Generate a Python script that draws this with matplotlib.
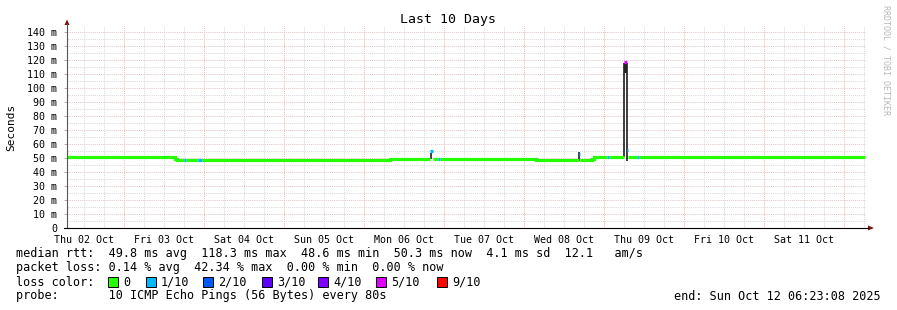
import matplotlib
matplotlib.use("Agg")
import matplotlib.pyplot as plt
from matplotlib.patches import Polygon, Rectangle
from matplotlib.lines import Line2D
import numpy as np

# ---------------- data ----------------
title = "Last 10 Days"
ylabel = "Seconds"
y_ticks = list(range(0, 141, 10))
y_tick_labels = ["0"] + [f"{v} m" for v in range(10, 141, 10)]
day_labels = ["Thu 02 Oct", "Fri 03 Oct", "Sat 04 Oct", "Sun 05 Oct", "Mon 06 Oct",
              "Tue 07 Oct", "Wed 08 Oct", "Thu 09 Oct", "Fri 10 Oct", "Sat 11 Oct"]

# median rtt, step segments: time in days since Thu 02 Oct 00:00, rtt in ms, lost pings of 10
seg_start = [0.266, 1.6375, 1.6625, 1.750, 1.775, 1.925, 1.975, 4.325, 4.830, 4.8625, 4.925, 4.950,
             6.150, 6.690, 6.700, 6.850, 6.875, 7.0375, 7.0625, 7.250, 7.2875, 7.300, 7.4125, 7.4375]
seg_end   = [1.6375, 1.6625, 1.750, 1.775, 1.925, 1.975, 4.325, 4.830, 4.8625, 4.925, 4.950, 6.150,
             6.690, 6.700, 6.850, 6.875, 7.0375, 7.0625, 7.250, 7.2875, 7.300, 7.4125, 7.4375, 10.266]
seg_rtt   = [50.6, 49.6, 48.6, 48.6, 48.6, 48.6, 48.6, 49.4, 55.0, 49.4, 49.4, 49.4,
             48.6, 53.0, 48.6, 49.6, 50.6, 50.6, 50.6, 118.6, 56.0, 50.6, 50.6, 50.6]
seg_loss  = [0, 0, 0, 1, 0, 1, 0, 0, 1, 0, 1, 0,
             0, 1, 0, 0, 0, 1, 0, 5, 1, 0, 1, 0]

# smoke (spread of the pings) where it is visible
smoke_t  = [4.8375, 6.6875, 7.256, 7.263, 7.270, 7.284]
smoke_lo = [49.3, 47.9, 50.6, 110.7, 110.7, 48.0]
smoke_hi = [53.6, 54.3, 118.0, 118.0, 118.0, 118.0]

loss_keys = [0, 1, 2, 3, 4, 5, 9]
loss_labels = ["0", "1/10", "2/10", "3/10", "4/10", "5/10", "9/10"]
loss_colors = ["#26ff00", "#00b8ff", "#0059ff", "#5e00ff", "#7e00ff", "#dd00ff", "#ff0000"]

line_rtt = "median rtt:  49.8 ms avg  118.3 ms max  48.6 ms min  50.3 ms now  4.1 ms sd  12.1   am/s"
line_loss = "packet loss: 0.14 % avg  42.34 % max  0.00 % min  0.00 % now"
line_color = "loss color:"
line_probe = "probe:       10 ICMP Echo Pings (56 Bytes) every 80s"
line_end = "end: Sun Oct 12 06:23:08 2025"
watermark = "RRDTOOL / TOBI OETIKER"

# ---------------- layout ----------------
W, H = 897, 310
MONO = "DejaVu Sans Mono"
fig = plt.figure(figsize=(W / 100, H / 100), dpi=100)
fig.patch.set_facecolor("white")

def fx(x):
    return x / W

def fy(y):
    return 1 - y / H

ax = fig.add_axes([fx(67), fy(228), 799 / W, 202 / H])
ax.set_xlim(0.2875, 10.275)
ax.set_ylim(0, 144.3)
for s in ax.spines.values():
    s.set_visible(False)

dots = (0, (1.08, 1.08))
# vertical grid
for k in range(1, 42):
    d = k * 0.25
    if d < 0.2875 or d > 10.275:
        continue
    if k % 4 == 0:
        ax.axvline(d, color="#ffb0b0", lw=0.7, ls=dots, zorder=1)
    else:
        ax.axvline(d, color="#d8d8d8", lw=0.7, ls=dots, zorder=1)
# horizontal grid
for v in range(5, 145, 5):
    if v % 10 == 0:
        ax.axhline(v, color="#e4c4c4", lw=0.7, ls=dots, zorder=1)
    else:
        ax.axhline(v, color="#d8d8d8", lw=0.7, ls=dots, zorder=1)

# smoke
ax.vlines(smoke_t, smoke_lo, smoke_hi, colors="#1e1e1e", lw=1.2, zorder=3)

# median line coloured by loss (one broken step line per loss level)
for key, col in zip(loss_keys, loss_colors):
    xs, ys = [], []
    prev_end = None
    for s, e, v, l in zip(seg_start, seg_end, seg_rtt, seg_loss):
        if l != key:
            prev_end = None
            continue
        if prev_end is None or abs(prev_end - s) > 1e-9:
            if xs:
                xs.append(np.nan); ys.append(np.nan)
        xs += [s, e]
        ys += [v, v]
        prev_end = e
    if xs:
        ax.plot(xs, ys, color=col, lw=2.3, solid_capstyle="butt",
                solid_joinstyle="miter", zorder=4)

# ticks / labels
ax.set_yticks(y_ticks)
ax.set_yticklabels(y_tick_labels, fontfamily=MONO, fontsize=7.2)
ax.tick_params(axis="y", length=2.5, width=0.7, color="#b0b0b0", pad=4.5)
ax.set_xticks([d + 0.5 for d in range(len(day_labels))])
ax.set_xticklabels(day_labels, fontfamily=MONO, fontsize=7.2)
ax.tick_params(axis="x", length=0, pad=5)

# axes lines and arrows
fig.add_artist(Line2D([fx(67), fx(67)], [fy(228), fy(24)], color="#555555", lw=0.8))
fig.add_artist(Line2D([fx(64), fx(868)], [fy(228), fy(228)], color="black", lw=0.8))
fig.add_artist(Polygon([[fx(64.5), fy(25)], [fx(69.5), fy(25)], [fx(67), fy(19.5)]],
                       closed=True, color="#7f1010", lw=0))
fig.add_artist(Polygon([[fx(868), fy(225.5)], [fx(868), fy(230.5)], [fx(874), fy(228)]],
                       closed=True, color="#7f1010", lw=0))

# titles
fig.text(fx(448), fy(19), title, fontfamily=MONO, fontsize=9.5, ha="center", va="center")
fig.text(fx(11), fy(127), ylabel, fontfamily=MONO, fontsize=8, rotation=90,
         ha="center", va="center")
fig.text(fx(886), fy(60), watermark, fontfamily=MONO, fontsize=6, rotation=270,
         ha="center", va="center", color="#b8b8b8")

# legend
LFS = 8.5
fig.text(fx(16), fy(254), line_rtt, fontfamily=MONO, fontsize=LFS, va="center")
fig.text(fx(16), fy(268), line_loss, fontfamily=MONO, fontsize=LFS, va="center")
fig.text(fx(16), fy(282), line_color, fontfamily=MONO, fontsize=LFS, va="center")
fig.text(fx(16), fy(296), line_probe, fontfamily=MONO, fontsize=LFS, va="center")
fig.text(fx(881), fy(296), line_end, fontfamily=MONO, fontsize=LFS, va="center", ha="right")

box_x = [108, 146, 203, 262, 318, 376, 437]
for bx, lab, col in zip(box_x, loss_labels, loss_colors):
    fig.add_artist(Rectangle((fx(bx), fy(287)), 10 / W, 10 / H, facecolor=col,
                             edgecolor="black", lw=0.7))
    fig.text(fx(bx + 15), fy(282), lab, fontfamily=MONO, fontsize=LFS, va="center")

fig.savefig("out.png", dpi=100, facecolor="white")
